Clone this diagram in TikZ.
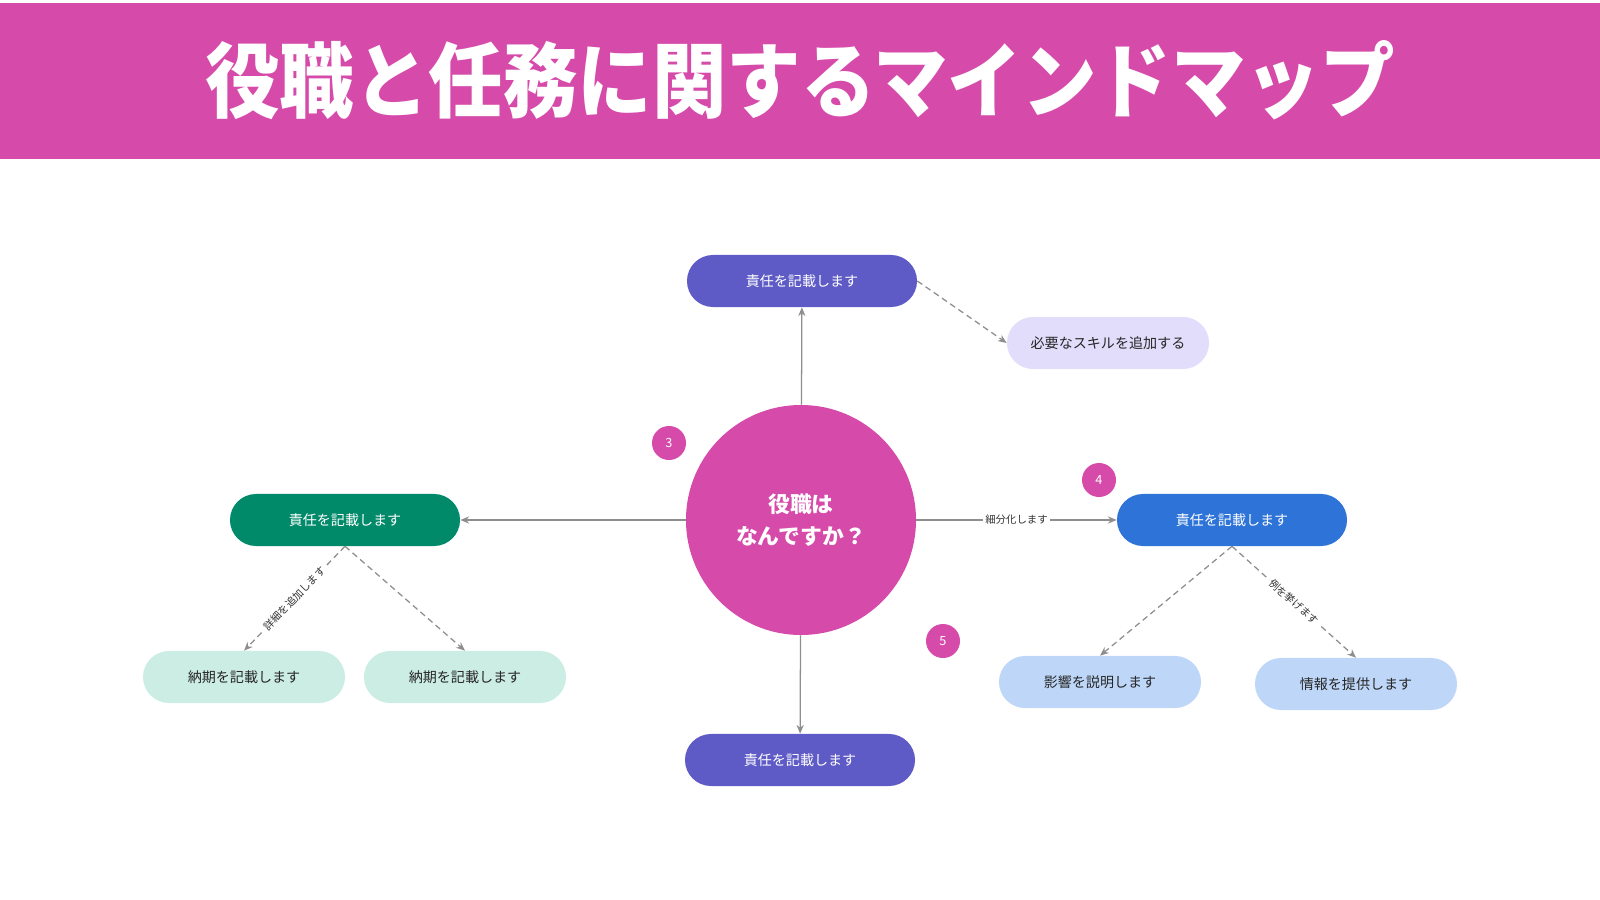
\documentclass[tikz,border=0pt]{standalone}
\usepackage{fontspec}
\setmainfont{Noto Sans CJK JP}
\usetikzlibrary{arrows.meta, positioning, shapes}

\definecolor{rolepink}{HTML}{D64BAA}
\definecolor{dutyviolet}{HTML}{5F5BC6}
\definecolor{skilllilac}{HTML}{E1DDFB}
\definecolor{leftgreen}{HTML}{008A6A}
\definecolor{leftmint}{HTML}{CCEDE4}
\definecolor{rightblue}{HTML}{2E74D8}
\definecolor{rightsky}{HTML}{BED7F9}
\definecolor{linkgray}{HTML}{8E8E8E}

\tikzset{
    pill/.style={rectangle, rounded corners=0.65cm, minimum height=1.3cm,
        minimum width=5.75cm, inner sep=0pt, font=\fontsize{10}{12}\selectfont},
    leaf/.style={pill, minimum width=5.05cm, text=black!85},
    badge/.style={circle, fill=rolepink, minimum size=0.85cm, inner sep=0pt,
        text=white, font=\fontsize{9}{10}\selectfont},
    link/.style={draw=linkgray, line width=0.9pt, -{Stealth[length=2.2mm, width=1.8mm]}},
    hint/.style={link, dash pattern=on 1.5mm off 1mm},
    tag/.style={fill=white, inner sep=1.5pt, text=black!80, font=\fontsize{7.4}{8}\selectfont}
}

\begin{document}
\begin{tikzpicture}[x=0.025cm, y=-0.025cm]
    \useasboundingbox (0,0) rectangle (1600,900);

    % header
    \fill[rolepink] (0,3) rectangle (1600,159);
    \node (title) at (800,80) [text=white, yscale=1.1, font=\fontsize{53}{58}\selectfont\bfseries] {役職と任務に関するマインドマップ};

    % center
    \node (core) at (801,520) [circle, fill=rolepink, minimum size=5.75cm, inner sep=0pt, align=center,
        text=white, font=\fontsize{15.5}{22.5}\selectfont\bfseries] {役職は\\なんですか？};

    \node (top) at (802,281) [pill, fill=dutyviolet, text=white] {責任を記載します};
    \node (skill) at (1108,343) [leaf, fill=skilllilac] {必要なスキルを追加する};
    \node (bottom) at (800,760) [pill, fill=dutyviolet, text=white] {責任を記載します};

    \node (green) at (345,520) [pill, fill=leftgreen, text=white] {責任を記載します};
    \node (dueA) at (244,677) [leaf, fill=leftmint] {納期を記載します};
    \node (dueB) at (465,677) [leaf, fill=leftmint] {納期を記載します};

    \node (blue) at (1232,520) [pill, fill=rightblue, text=white] {責任を記載します};
    \node (impact) at (1100,682) [leaf, fill=rightsky] {影響を説明します};
    \node (info) at (1356,684) [leaf, fill=rightsky] {情報を提供します};

    \node (n3) at (669,443) [badge] {3};
    \node (n4) at (1099,480) [badge] {4};
    \node (n5) at (943,641) [badge] {5};

    % links
    \draw[link] (core) -- (top);
    \draw[link] (core) -- (bottom);
    \draw[link] (core) -- (green);
    \draw[link] (core) -- node[tag] {細分化します} (blue);

    \draw[hint] (top.east) -- (skill.west);
    \draw[hint] (green.south) -- node[tag, sloped] {詳細を追加します} (dueA.north);
    \draw[hint] (green.south) -- (dueB.north);
    \draw[hint] (blue.south) -- (impact.north);
    \draw[hint] (blue.south) -- node[tag, sloped] {例を挙げます} (info.north);
\end{tikzpicture}
\end{document}
